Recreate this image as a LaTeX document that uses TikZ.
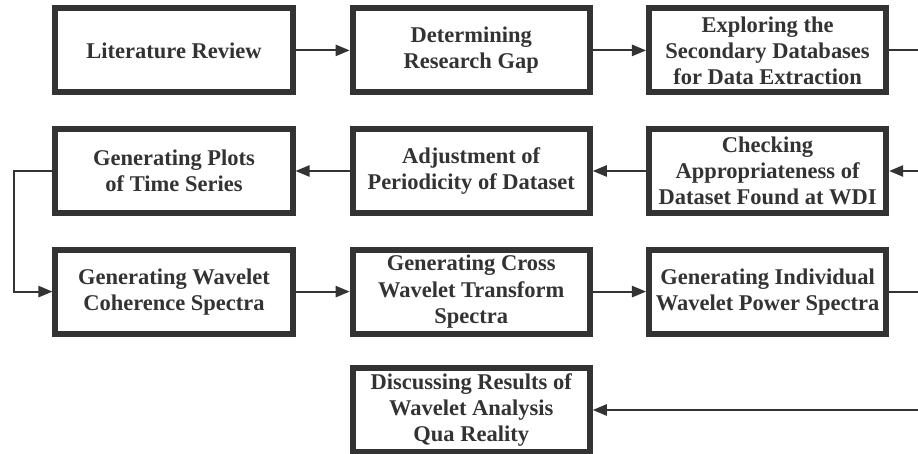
\documentclass[tikz,border=0pt]{standalone}
\usepackage{fontspec}
\setmainfont{Liberation Serif}
\usetikzlibrary{arrows.meta}
\definecolor{inkgray}{HTML}{333333}
\tikzset{
  stepbox/.style={draw=inkgray, line width=4.2pt, minimum width=5.93cm, minimum height=2.1cm,
    align=center, text=inkgray, font=\fontsize{16}{18.5}\selectfont\bfseries, inner sep=1pt},
  flow/.style={draw=inkgray, line width=1.3pt, -{Triangle[length=10pt,width=8pt]}},
  flowline/.style={draw=inkgray, line width=1.3pt}
}
\begin{document}
\begin{tikzpicture}
        \useasboundingbox (0,0) rectangle (22.95,11.35);
        % first row
        \node[stepbox] (review) at (4.35,10.09) {Literature Review};
        \node[stepbox] (gap) at (11.78,10.09) {Determining\\Research Gap};
        \node[stepbox] (explore) at (19.19,10.09) {Exploring the\\Secondary Databases\\for Data Extraction};
        % second row
        \node[stepbox] (plots) at (4.35,7.075) {Generating Plots\\of Time Series};
        \node[stepbox] (period) at (11.78,7.075) {Adjustment of\\Periodicity of Dataset};
        \node[stepbox] (check) at (19.19,7.075) {Checking\\Appropriateness of\\Dataset Found at WDI};
        % third row
        \node[stepbox] (coher) at (4.35,4.06) {Generating Wavelet\\Coherence Spectra};
        \node[stepbox] (cross) at (11.78,4.06) {Generating Cross\\Wavelet Transform\\Spectra};
        \node[stepbox] (power) at (19.19,4.06) {Generating Individual\\Wavelet Power Spectra};
        % last row
        \node[stepbox] (discuss) at (11.78,1.1) {Discussing Results of\\Wavelet Analysis\\Qua Reality};

        \coordinate (edgeA) at (22.95,10.09);
        \coordinate (edgeB) at (22.95,7.075);
        \coordinate (edgeC) at (22.95,4.06);
        \coordinate (edgeD) at (22.95,1.1);
        \coordinate (leftA) at (0.35,7.075);
        \coordinate (leftB) at (0.35,4.06);

        \draw[flow] (review) -- (gap);
        \draw[flow] (gap) -- (explore);
        \draw[flowline] (explore) -- (edgeA);
        \draw[flow] (edgeB) -- (check);
        \draw[flow] (check) -- (period);
        \draw[flow] (period) -- (plots);
        \draw[flow] (plots.west) -- (leftA) -- (leftB) -- (coher.west);
        \draw[flow] (coher) -- (cross);
        \draw[flow] (cross) -- (power);
        \draw[flowline] (power) -- (edgeC);
        \draw[flow] (edgeD) -- (discuss);
\end{tikzpicture}
\end{document}
